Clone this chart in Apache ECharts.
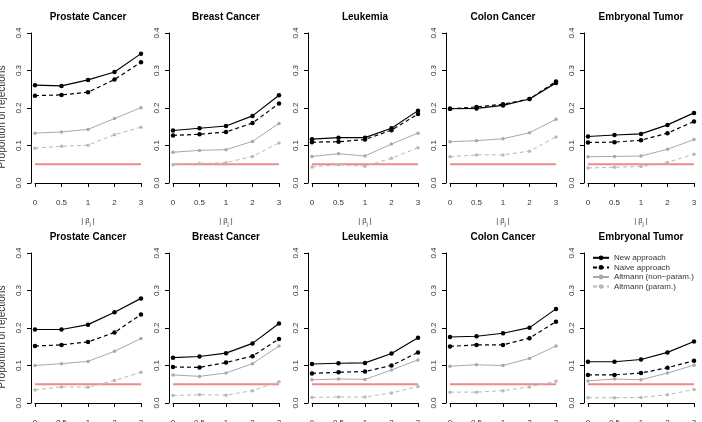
<!DOCTYPE html>
<html>
<head>
<meta charset="utf-8">
<script src="https://cdn.jsdelivr.net/npm/echarts@6/dist/echarts.min.js"></script>
<style>
  html, body { margin: 0; padding: 0; background: #fff; }
  #chart { width: 702px; height: 422px; }
</style>
</head>
<body>
<div id="chart"></div>
<script>
// x categories (|beta_j|) and panel titles
const xLabels = ['0', '0.5', '1', '2', '3']
const datasets = ['Prostate Cancer', 'Breast Cancer', 'Leukemia', 'Colon Cancer', 'Embryonal Tumor']
const methods = ['New approach', 'Naive approach', 'Altmann (non\u2212param.)', 'Altmann (param.)']
const alpha = 0.05

// top row, one array per dataset
const newTop = [
  [0.261, 0.259, 0.275, 0.296, 0.345],
  [0.140, 0.146, 0.152, 0.179, 0.234],
  [0.117, 0.121, 0.121, 0.146, 0.193],
  [0.198, 0.199, 0.207, 0.224, 0.267],
  [0.124, 0.128, 0.131, 0.155, 0.187],
]
const naiveTop = [
  [0.233, 0.235, 0.242, 0.276, 0.322],
  [0.127, 0.130, 0.136, 0.160, 0.212],
  [0.109, 0.110, 0.116, 0.141, 0.184],
  [0.198, 0.203, 0.210, 0.224, 0.271],
  [0.108, 0.109, 0.114, 0.133, 0.164],
]
const altNpTop = [
  [0.133, 0.136, 0.143, 0.172, 0.201],
  [0.082, 0.087, 0.089, 0.111, 0.159],
  [0.071, 0.078, 0.072, 0.104, 0.133],
  [0.110, 0.113, 0.118, 0.134, 0.170],
  [0.070, 0.071, 0.072, 0.090, 0.116],
]
const altPTop = [
  [0.093, 0.098, 0.101, 0.129, 0.149],
  [0.049, 0.052, 0.054, 0.071, 0.107],
  [0.043, 0.049, 0.045, 0.066, 0.094],
  [0.070, 0.075, 0.075, 0.085, 0.123],
  [0.040, 0.042, 0.044, 0.055, 0.077],
]

// bottom row
const newBottom = [
  [0.196, 0.196, 0.209, 0.242, 0.279],
  [0.121, 0.124, 0.133, 0.159, 0.212],
  [0.104, 0.106, 0.107, 0.132, 0.174],
  [0.176, 0.178, 0.186, 0.201, 0.251],
  [0.110, 0.110, 0.116, 0.135, 0.164],
]
const naiveBottom = [
  [0.152, 0.155, 0.163, 0.188, 0.236],
  [0.096, 0.095, 0.108, 0.125, 0.171],
  [0.079, 0.082, 0.084, 0.100, 0.135],
  [0.151, 0.155, 0.155, 0.173, 0.217],
  [0.075, 0.075, 0.080, 0.094, 0.113],
]
const altNpBottom = [
  [0.100, 0.105, 0.111, 0.138, 0.172],
  [0.075, 0.071, 0.080, 0.105, 0.152],
  [0.062, 0.064, 0.063, 0.088, 0.115],
  [0.098, 0.102, 0.100, 0.119, 0.152],
  [0.059, 0.064, 0.062, 0.080, 0.101],
]
const altPBottom = [
  [0.035, 0.043, 0.042, 0.060, 0.082],
  [0.020, 0.022, 0.021, 0.033, 0.057],
  [0.015, 0.016, 0.016, 0.027, 0.044],
  [0.029, 0.029, 0.033, 0.043, 0.058],
  [0.014, 0.014, 0.015, 0.022, 0.036],
]

const rows = [
  [newTop, naiveTop, altNpTop, altPTop],
  [newBottom, naiveBottom, altNpBottom, altPBottom],
]

const FONT = '"Liberation Sans", Arial, sans-serif'
const colLeft = [35, 173, 312, 450, 588]
const rowTop = [33, 253]
const plotW = 106
const plotH = 150

const STYLES = [
  { color: '#000000', type: 'solid', width: 1.2, size: 4.5 },
  { color: '#000000', type: [4, 3], width: 1.2, size: 4.5 },
  { color: '#a9a9a9', type: 'solid', width: 1, size: 3.5 },
  { color: '#b9b9b9', type: [4, 3], width: 1, size: 3.5 },
]

const grids = []
const xAxes = []
const yAxes = []
const titles = []
const series = []

rows.forEach((rowData, r) => {
  datasets.forEach((name, c) => {
    const idx = grids.length
    grids.push({
      left: colLeft[c], top: rowTop[r], width: plotW, height: plotH,
      outerBoundsMode: 'none', containLabel: false,
    })
    titles.push({
      text: name,
      left: colLeft[c] + plotW / 2,
      top: rowTop[r] - 21,
      textAlign: 'center',
      padding: 0,
      textStyle: { fontFamily: FONT, fontSize: 10, fontWeight: 'bold', color: '#000' },
    })
    xAxes.push({
      gridIndex: idx,
      type: 'category',
      data: xLabels,
      boundaryGap: false,
      offset: 6,
      axisLine: { lineStyle: { color: '#000', width: 1 } },
      axisTick: { length: 4, lineStyle: { color: '#000' } },
      axisLabel: { fontFamily: FONT, fontSize: 8, color: '#333', margin: 10, interval: 0 },
      splitLine: { show: false },
      name: '| \u03b2{s|j} |',
      nameLocation: 'middle',
      nameGap: 26,
      nameTextStyle: {
        fontFamily: FONT, fontSize: 7.5, color: '#333',
        rich: { s: { fontFamily: FONT, fontSize: 5.5, color: '#333', verticalAlign: 'bottom', lineHeight: 12 } },
      },
    })
    yAxes.push({
      gridIndex: idx,
      type: 'value',
      min: 0,
      max: 0.4,
      interval: 0.1,
      offset: 4,
      axisLine: { show: true, lineStyle: { color: '#000', width: 1 } },
      axisTick: { show: true, length: 4, lineStyle: { color: '#000' } },
      axisLabel: {
        fontFamily: FONT, fontSize: 8, color: '#333', rotate: 90, margin: 8,
        formatter: v => v.toFixed(1),
      },
      splitLine: { show: false },
      name: c === 0 ? 'Proportion of rejections' : '',
      nameLocation: 'middle',
      nameGap: 24,
      nameTextStyle: { fontFamily: FONT, fontSize: 10, color: '#333', padding: [0, 18, 0, 0] },
    })
    series.push({
      type: 'line',
      name: 'alpha',
      xAxisIndex: idx,
      yAxisIndex: idx,
      data: xLabels.map(() => alpha),
      symbol: 'none',
      lineStyle: { color: '#f08a8a', width: 2 },
      silent: true,
      z: 1,
    })
    rowData.forEach((m, k) => {
      const s = STYLES[k]
      series.push({
        type: 'line',
        name: methods[k],
        xAxisIndex: idx,
        yAxisIndex: idx,
        data: m[c],
        symbol: 'circle',
        symbolSize: s.size,
        color: s.color,
        itemStyle: { color: s.color },
        lineStyle: { color: s.color, type: s.type, width: s.width },
        z: 5 - k,
      })
    })
  })
})

const chart = echarts.init(document.getElementById('chart'))
chart.setOption({
  animation: false,
  backgroundColor: '#fff',
  title: titles,
  grid: grids,
  xAxis: xAxes,
  yAxis: yAxes,
  series: series,
  legend: {
    data: methods,
    orient: 'vertical',
    left: 592,
    top: 253,
    padding: 0,
    itemWidth: 16,
    itemHeight: 6,
    itemGap: 0,
    selectedMode: false,
    textStyle: { fontFamily: FONT, fontSize: 8, color: '#333', lineHeight: 9.6 },
  },
})
</script>
</body>
</html>
